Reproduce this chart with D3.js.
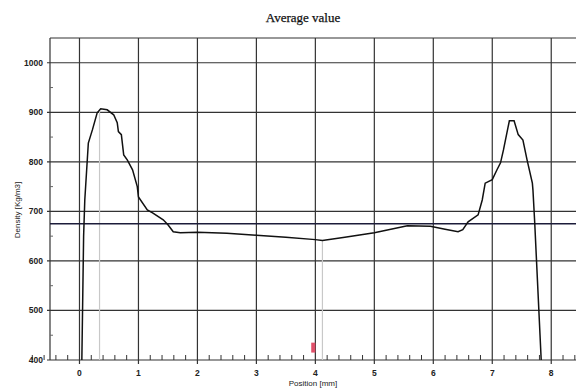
<!DOCTYPE html>
<html>
<head>
<meta charset="utf-8">
<script src="https://cdn.jsdelivr.net/npm/d3@7"></script>
<style>
  body { margin: 0; background: #fff; }
  svg { display: block; }
</style>
</head>
<body>
<div id="chart"></div>
<script>
// density profile
const positions = [0.04, 0.07, 0.09, 0.15, 0.22, 0.30, 0.36, 0.47, 0.58, 0.64, 0.66, 0.71, 0.75, 0.81,
  0.90, 0.98, 1.00, 1.15, 1.24, 1.42, 1.50, 1.59, 1.71, 2.0, 2.5, 3.0, 3.5, 4.0, 4.12, 4.5, 5.0, 5.56,
  5.95, 6.2, 6.42, 6.5, 6.59, 6.76, 6.83, 6.88, 7.0, 7.08, 7.14, 7.19, 7.29, 7.37, 7.44, 7.52, 7.59,
  7.68, 7.69, 7.72, 7.83];
const densities = [400, 650, 723, 838, 865, 899, 907, 905, 895, 879, 861, 855, 814, 804,
  784, 750, 729, 703, 697, 683, 673, 659, 657, 658, 656, 652, 648, 643, 641, 648, 657, 671,
  670, 664, 659, 663, 679, 693, 723, 757, 764, 784, 798, 824, 883, 883, 855, 844, 804,
  757, 743, 677, 400];

const averageDensity = 675;
const markerPositions = [0.34, 4.12];
const xTicks = [0, 1, 2, 3, 4, 5, 6, 7, 8];
const yTicks = [400, 500, 600, 700, 800, 900, 1000];

const width = 576;
const height = 388;
const plotLeft = 50;
const plotTop = 38;
const plotBottom = 360;

const svg = d3.select('#chart')
  .append('svg')
  .attr('width', width)
  .attr('height', height);

const x = d3.scaleLinear().domain([-0.5, 8.42]).range([plotLeft, width]);
const y = d3.scaleLinear().domain([400, 1050]).range([plotBottom, plotTop]);

const gridColor = '#333';

// horizontal grid
svg.append('g')
  .selectAll('line')
  .data(yTicks.concat([1050]))
  .join('line')
  .attr('x1', (d) => (d === 1050 ? plotLeft : plotLeft - 3))
  .attr('x2', width)
  .attr('y1', (d) => y(d))
  .attr('y2', (d) => y(d))
  .attr('stroke', gridColor)
  .attr('stroke-width', 1.2);

// vertical grid
svg.append('g')
  .selectAll('line')
  .data(xTicks)
  .join('line')
  .attr('x1', (d) => x(d))
  .attr('x2', (d) => x(d))
  .attr('y1', plotTop)
  .attr('y2', plotBottom + 4)
  .attr('stroke', gridColor)
  .attr('stroke-width', 1.2);

svg.append('line')
  .attr('x1', plotLeft).attr('x2', plotLeft)
  .attr('y1', plotTop).attr('y2', plotBottom)
  .attr('stroke', gridColor)
  .attr('stroke-width', 1.2);

// minor ticks along the bottom
const minorX = d3.range(-4, 43).map((i) => i / 5).filter((d) => Math.abs(d - Math.round(d)) > 0.01);
svg.append('g')
  .selectAll('line')
  .data(minorX)
  .join('line')
  .attr('x1', (d) => x(d))
  .attr('x2', (d) => x(d))
  .attr('y1', plotBottom)
  .attr('y2', plotBottom - 5)
  .attr('stroke', gridColor);

// minor ticks on the left axis
svg.append('g')
  .selectAll('line')
  .data([450, 550, 650, 750, 850, 950])
  .join('line')
  .attr('x1', plotLeft)
  .attr('x2', plotLeft + 3)
  .attr('y1', (d) => y(d))
  .attr('y2', (d) => y(d))
  .attr('stroke', '#666');

// light marker lines (peak / minimum)
svg.append('g')
  .selectAll('line')
  .data(markerPositions)
  .join('line')
  .attr('x1', (d) => x(d))
  .attr('x2', (d) => x(d))
  .attr('y1', (d, i) => (i === 0 ? y(907) : y(641)))
  .attr('y2', plotBottom)
  .attr('stroke', '#c8c8c8')
  .attr('stroke-width', 1.2);

// average line
svg.append('line')
  .attr('x1', plotLeft)
  .attr('x2', width)
  .attr('y1', y(averageDensity))
  .attr('y2', y(averageDensity))
  .attr('stroke', '#1c1c3a')
  .attr('stroke-width', 1.5);

// small red marker near 4 mm
svg.append('rect')
  .attr('x', x(3.93))
  .attr('y', y(435))
  .attr('width', x(4.0) - x(3.93))
  .attr('height', y(415) - y(435))
  .attr('fill', '#e0506a');

// density curve
const points = positions.map((p, i) => [p, densities[i]]);
svg.append('path')
  .datum(points)
  .attr('fill', 'none')
  .attr('stroke', '#111')
  .attr('stroke-width', 1.5)
  .attr('d', d3.line().x((d) => x(d[0])).y((d) => y(d[1])));

// tick labels
svg.append('g')
  .selectAll('text')
  .data(yTicks)
  .join('text')
  .attr('x', plotLeft - 7)
  .attr('y', (d) => y(d) + 3)
  .attr('text-anchor', 'end')
  .attr('font-family', 'Liberation Sans, Arial, sans-serif')
  .attr('font-size', 8.5)
  .attr('font-weight', 'bold')
  .attr('fill', '#222')
  .text((d) => d);

svg.append('g')
  .selectAll('text')
  .data(xTicks)
  .join('text')
  .attr('x', (d) => x(d))
  .attr('y', plotBottom + 16)
  .attr('text-anchor', 'middle')
  .attr('font-family', 'Liberation Sans, Arial, sans-serif')
  .attr('font-size', 8.5)
  .attr('font-weight', 'bold')
  .attr('fill', '#222')
  .text((d) => d);

// titles
svg.append('text')
  .attr('x', 303)
  .attr('y', 22)
  .attr('text-anchor', 'middle')
  .attr('font-family', 'Liberation Serif, Times New Roman, serif')
  .attr('font-size', 13)
  .attr('fill', '#111')
  .attr('stroke', '#111')
  .attr('stroke-width', 0.25)
  .text('Average value');

svg.append('text')
  .attr('x', 313)
  .attr('y', 386)
  .attr('text-anchor', 'middle')
  .attr('font-family', 'Liberation Sans, Arial, sans-serif')
  .attr('font-size', 8)
  .attr('fill', '#222')
  .text('Position [mm]');

svg.append('text')
  .attr('transform', 'translate(20, 210) rotate(-90)')
  .attr('text-anchor', 'middle')
  .attr('font-family', 'Liberation Sans, Arial, sans-serif')
  .attr('font-size', 8)
  .attr('fill', '#222')
  .text('Density [Kg/m3]');
</script>
</body>
</html>
